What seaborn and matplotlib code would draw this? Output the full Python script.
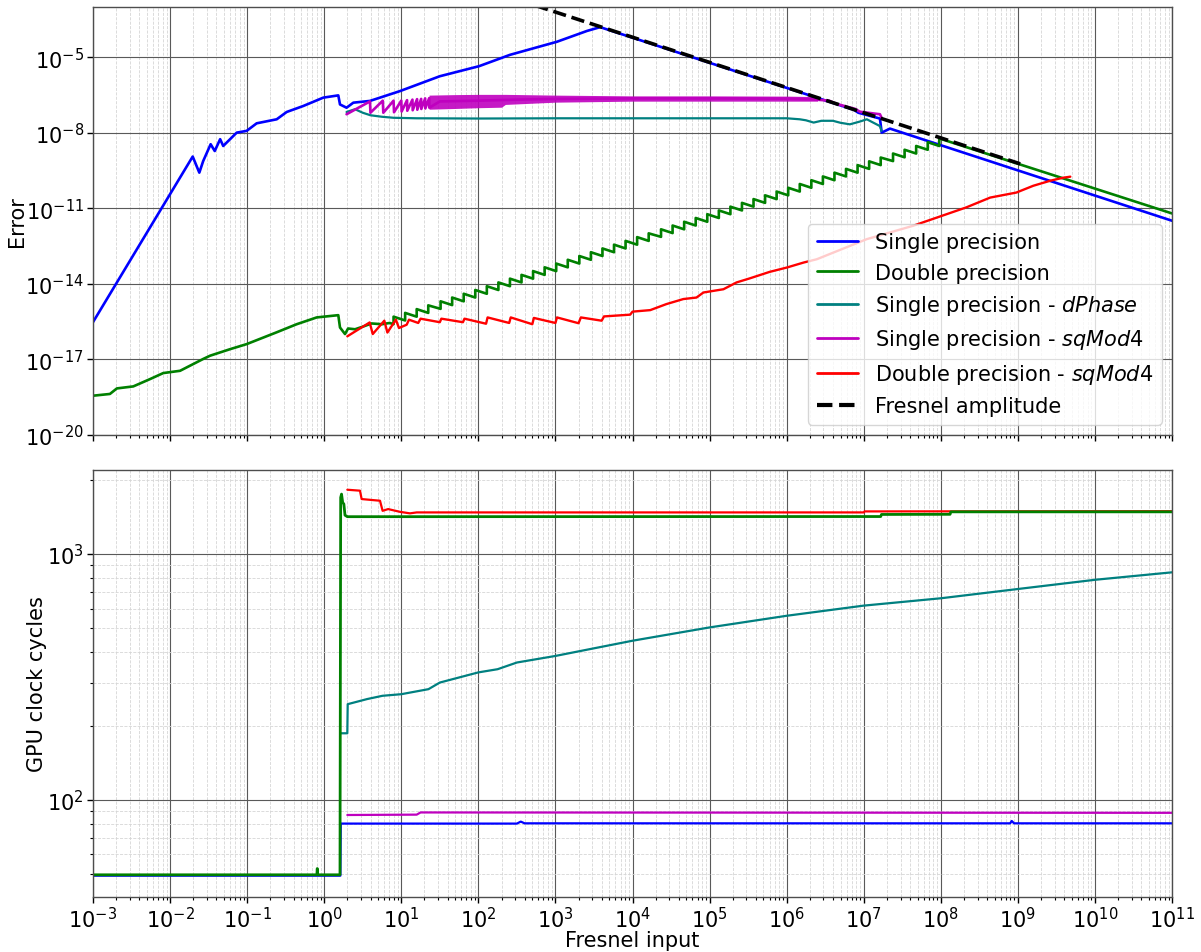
import numpy as np
import matplotlib
matplotlib.use("Agg")
import matplotlib.pyplot as plt
from matplotlib.ticker import LogLocator, NullLocator
import seaborn as sns

# ---------------------------------------------------------------------------
# Data (values stored as base-10 exponents: value = 10**exponent)
# ---------------------------------------------------------------------------

# --- Error panel ---------------------------------------------------------
single_err_lx = [-3.0, -1.706, -1.62, -1.57, -1.473, -1.42, -1.35, -1.31, -1.135,
                 -1.006, -0.876, -0.616, -0.487, -0.27, -0.012, 0.183, 0.205, 0.29,
                 0.378, 0.594, 0.983, 1.50, 2.01, 2.41, 3.02, 3.41, 3.58, 6.87,
                 6.93, 7.21, 7.233, 7.34, 11.0]
single_err_ly = [-15.52, -8.94, -9.58, -9.12, -8.45, -8.72, -8.25, -8.52, -7.99,
                 -7.92, -7.62, -7.46, -7.17, -6.93, -6.60, -6.51, -6.87, -7.0,
                 -6.80, -6.73, -6.34, -5.75, -5.35, -4.90, -4.38, -3.95, -3.80, -7.08,
                 -7.20, -7.43, -7.99, -7.83, -11.49]

double_err_head_lx = [-3.0, -2.78, -2.69, -2.477, -2.26, -2.088, -1.87, -1.57, -1.48,
                      -1.22, -1.006, -0.616, -0.357, -0.097, 0.183, 0.205, 0.27, 0.31,
                      0.40, 0.507, 0.616, 0.75, 0.85]
double_err_head_ly = [-18.44, -18.37, -18.15, -18.07, -17.78, -17.54, -17.45, -16.98,
                      -16.85, -16.59, -16.39, -15.92, -15.60, -15.33, -15.24, -15.73,
                      -15.99, -15.77, -15.80, -15.69, -15.57, -15.60, -15.55]
# sawtooth: jump positions, value just before each jump and just after it
double_jump_lx = [0.90, 1.05, 1.20, 1.35, 1.51, 1.66, 1.81, 1.96, 2.11, 2.26, 2.41, 2.56,
                  2.71, 2.86, 3.01, 3.16, 3.31, 3.46, 3.61, 3.76, 3.91, 4.06, 4.21, 4.37,
                  4.52, 4.67, 4.82, 4.97, 5.12, 5.27, 5.42, 5.57, 5.72, 5.87, 6.02, 6.17,
                  6.32, 6.47, 6.62, 6.77, 6.92, 7.07, 7.22, 7.38, 7.53, 7.68, 7.83, 7.98]
double_jump_lo = [-15.60, -15.45, -15.30, -15.15, -14.99, -14.84, -14.69, -14.54, -14.39,
                  -14.24, -14.09, -13.94, -13.79, -13.64, -13.49, -13.34, -13.19, -13.04,
                  -12.89, -12.74, -12.59, -12.44, -12.29, -12.13, -11.98, -11.83, -11.68,
                  -11.53, -11.38, -11.23, -11.08, -10.93, -10.78, -10.63, -10.48, -10.33,
                  -10.18, -10.03, -9.88, -9.73, -9.58, -9.43, -9.28, -9.12, -8.97, -8.82,
                  -8.67, -8.52]
double_jump_hi = [-15.30, -15.15, -15.00, -14.85, -14.69, -14.54, -14.39, -14.24, -14.09,
                  -13.94, -13.79, -13.64, -13.49, -13.34, -13.19, -13.04, -12.89, -12.74,
                  -12.59, -12.44, -12.29, -12.14, -11.99, -11.83, -11.68, -11.53, -11.38,
                  -11.23, -11.08, -10.93, -10.78, -10.63, -10.48, -10.33, -10.18, -10.03,
                  -9.88, -9.73, -9.58, -9.43, -9.28, -9.13, -8.98, -8.82, -8.67, -8.52,
                  -8.37, -8.22]
double_err_tail_lx = [11.0]
double_err_tail_ly = [-11.20]

dphase_err_lx = [0.29, 0.40, 0.50, 0.60, 0.75, 0.90, 1.2, 2.0, 3.0, 4.0, 5.0, 6.0, 6.17,
                 6.25, 6.35, 6.45, 6.60, 6.70, 6.82, 6.95, 7.04, 7.21, 7.23]
dphase_err_ly = [-7.17, -7.06, -7.20, -7.30, -7.36, -7.40, -7.42, -7.43, -7.42, -7.42,
                 -7.42, -7.42, -7.46, -7.50, -7.59, -7.52, -7.52, -7.60, -7.66, -7.55,
                 -7.46, -7.73, -7.92]

sqmod_s_err_lx = [0.29, 0.594, 0.60, 0.76, 0.767, 0.90, 0.906, 1.0, 1.005, 1.075, 1.078,
                  1.145, 1.148, 1.205, 1.208, 1.258, 1.26, 1.31, 1.312, 1.362, 1.364,
                  1.5, 2.0, 2.5, 3.0, 4.0, 5.0, 6.0, 6.34, 6.55, 6.65, 6.89, 6.95, 7.21,
                  7.23]
sqmod_s_err_ly = [-7.26, -6.75, -7.20, -6.72, -7.20, -6.72, -7.18, -6.72, -7.15, -6.70,
                  -7.12, -6.68, -7.10, -6.66, -7.08, -6.65, -7.05, -6.63, -7.03, -6.62,
                  -7.00, -6.75, -6.72, -6.68, -6.65, -6.63, -6.63, -6.64, -6.67, -6.72,
                  -6.85, -7.05, -7.16, -7.26, -7.39]
sqmod_s_band_lx = [1.36, 1.7, 2.0, 2.3, 2.35, 3.0, 4.0, 5.0, 6.0, 6.4]
sqmod_s_band_lo = [-7.06, -7.03, -7.00, -6.98, -6.87, -6.78, -6.74, -6.74, -6.74, -6.74]
sqmod_s_band_hi = [-6.50, -6.48, -6.47, -6.47, -6.47, -6.50, -6.53, -6.53, -6.54, -6.56]

sqmod_d_err_lx = [0.30, 0.59, 0.63, 0.78, 0.82, 0.93, 0.97, 1.07, 1.10, 1.22, 1.25, 1.50,
                  1.52, 1.80, 1.82, 2.10, 2.12, 2.40, 2.42, 2.70, 2.72, 3.00, 3.02, 3.30,
                  3.33, 3.60, 3.63, 3.97, 4.00, 4.23, 4.44, 4.66, 4.83, 4.92, 5.18, 5.35,
                  5.52, 5.78, 6.00, 6.22, 6.39, 7.04, 7.64, 8.33, 8.64, 8.98, 9.20, 9.42,
                  9.59, 9.68]
sqmod_d_err_ly = [-16.08, -15.53, -15.99, -15.46, -15.93, -15.42, -15.75, -15.62, -15.42,
                  -15.55, -15.38, -15.52, -15.38, -15.52, -15.38, -15.58, -15.33, -15.55,
                  -15.33, -15.60, -15.35, -15.55, -15.33, -15.56, -15.33, -15.46, -15.29,
                  -15.22, -15.10, -15.04, -14.80, -14.60, -14.54, -14.34, -14.21, -13.94,
                  -13.78, -13.52, -13.35, -13.15, -13.02, -12.22, -11.69, -10.96, -10.57,
                  -10.37, -10.10, -9.90, -9.78, -9.74]

fresnel_lx = [2.5, 9.03]
fresnel_ly = [-2.70, -9.23]

# --- GPU clock cycle panel ---------------------------------------------------
single_cyc_lx = [-3.0, 0.21, 0.215, 2.5, 2.55, 2.6, 8.9, 8.92, 8.95, 11.0]
single_cyc = [49.1, 49.1, 80.0, 80.0, 81.5, 80.2, 80.2, 82.0, 80.2, 80.2]

double_cyc_lx = [-3.0, -0.095, -0.09, -0.085, 0.205, 0.214, 0.225, 0.24, 0.255, 0.27,
                 0.30, 7.22, 7.23, 8.12, 8.13, 11.0]
double_cyc = [49.5, 49.5, 52.5, 49.5, 49.5, 1700, 1755, 1620, 1600, 1440, 1420, 1422,
              1450, 1452, 1486, 1486]

dphase_cyc_lx = [0.214, 0.30, 0.305, 0.557, 0.756, 1.0, 1.353, 1.5, 2.0, 2.25, 2.5, 3.0,
                 3.44, 4.0, 5.0, 6.0, 7.0, 8.0, 9.0, 10.0, 11.0]
dphase_cyc = [186.5, 186.5, 245, 257, 265, 269, 282, 300, 330, 340, 362, 385, 410, 444,
              503, 561, 617, 661, 721, 786, 843]

sqmod_s_cyc_lx = [0.30, 1.2, 1.25, 11.0]
sqmod_s_cyc = [86.7, 87.0, 88.8, 88.5]

sqmod_d_cyc_lx = [0.30, 0.464, 0.486, 0.724, 0.758, 0.83, 0.983, 1.113, 1.2, 7.0, 7.01,
                  11.0]
sqmod_d_cyc = [1828, 1812, 1675, 1649, 1500, 1525, 1486, 1465, 1478, 1478, 1492, 1495]

labels = ["Single precision", "Double precision",
          r"Single precision - $\it{dPhase}$",
          r"Single precision - $\it{sqMod4}$",
          r"Double precision - $\it{sqMod4}$",
          "Fresnel amplitude"]
colors = ["#0000ff", "#008000", "#008080", "#bf00bf", "#ff0000", "black"]

x_ticks_exp = list(range(-3, 12))
err_ticks_exp = [-20, -17, -14, -11, -8, -5]


def p10(a):
    return 10.0 ** np.asarray(a, dtype=float)


# sawtooth polyline for double precision error
saw_lx, saw_ly = [], []
for t, lo, hi in zip(double_jump_lx, double_jump_lo, double_jump_hi):
    saw_lx += [t, t]
    saw_ly += [lo, hi]
double_err_lx = double_err_head_lx + saw_lx + double_err_tail_lx
double_err_ly = double_err_head_ly + saw_ly + double_err_tail_ly

# ---------------------------------------------------------------------------
# Figure
# ---------------------------------------------------------------------------
sns.set_style("ticks")
plt.rcParams["font.family"] = ["DejaVu Sans"]
plt.rcParams["mathtext.fontset"] = "dejavusans"
for key in ("text.color", "axes.labelcolor", "xtick.color", "ytick.color"):
    plt.rcParams[key] = "black"
FS = 15

fig = plt.figure(figsize=(12.01, 9.53), dpi=100)
ax2 = fig.add_axes([0.0774, 0.0577, 0.8985, 0.4481])
ax1 = fig.add_axes([0.0774, 0.5425, 0.8985, 0.4491], sharex=ax2)

line_kw = dict(estimator=None, sort=False)

# top panel: error
sns.lineplot(x=p10(single_err_lx), y=p10(single_err_ly), ax=ax1, color=colors[0],
             lw=1.9, label=labels[0], **line_kw)
sns.lineplot(x=p10(double_err_lx), y=p10(double_err_ly), ax=ax1, color=colors[1],
             lw=1.9, label=labels[1], **line_kw)
sns.lineplot(x=p10(dphase_err_lx), y=p10(dphase_err_ly), ax=ax1, color=colors[2],
             lw=1.6, label=labels[2], **line_kw)
ax1.fill_between(p10(sqmod_s_band_lx), p10(sqmod_s_band_lo), p10(sqmod_s_band_hi),
                 color=colors[3], lw=0, alpha=0.9)
sns.lineplot(x=p10(sqmod_s_err_lx), y=p10(sqmod_s_err_ly), ax=ax1, color=colors[3],
             lw=1.9, label=labels[3], **line_kw)
sns.lineplot(x=p10(sqmod_d_err_lx), y=p10(sqmod_d_err_ly), ax=ax1, color=colors[4],
             lw=1.7, label=labels[4], **line_kw)
sns.lineplot(x=p10(fresnel_lx), y=p10(fresnel_ly), ax=ax1, color=colors[5],
             lw=2.6, linestyle="--", label=labels[5], **line_kw)

# bottom panel: clock cycles
sns.lineplot(x=p10(single_cyc_lx), y=single_cyc, ax=ax2, color=colors[0], lw=1.6,
             legend=False, **line_kw)
sns.lineplot(x=p10(sqmod_s_cyc_lx), y=sqmod_s_cyc, ax=ax2, color=colors[3], lw=1.6,
             legend=False, **line_kw)
sns.lineplot(x=p10(dphase_cyc_lx), y=dphase_cyc, ax=ax2, color=colors[2], lw=1.6,
             legend=False, **line_kw)
sns.lineplot(x=p10(sqmod_d_cyc_lx), y=sqmod_d_cyc, ax=ax2, color=colors[4], lw=1.6,
             legend=False, **line_kw)
sns.lineplot(x=p10(double_cyc_lx), y=double_cyc, ax=ax2, color=colors[1], lw=2.0,
             legend=False, **line_kw)

for ax in (ax1, ax2):
    ax.set_xscale("log")
    ax.set_yscale("log")

ax2.set_xlim(1e-3, 1e11)
ax2.set_xticks(p10(x_ticks_exp))
ax2.xaxis.set_minor_locator(LogLocator(base=10, subs=np.arange(2, 10), numticks=200))

ax1.set_ylim(1e-20, 1e-3)
ax1.set_yticks(p10(err_ticks_exp))
ax1.yaxis.set_minor_locator(NullLocator())

ax2.set_ylim(40.2, 2200)
ax2.yaxis.set_minor_locator(LogLocator(base=10, subs=np.arange(2, 10), numticks=50))

for ax in (ax1, ax2):
    ax.grid(which="major", color="0.35", lw=0.8, ls="-")
    ax.grid(which="minor", color="0.84", lw=0.6, ls="--")
    ax.set_axisbelow(True)
    ax.tick_params(which="major", labelsize=FS, length=4.5, width=1, direction="out",
                   pad=2)
    ax.tick_params(which="minor", length=2.5, width=0.8, direction="out")
    for s in ax.spines.values():
        s.set_color("0.3")
        s.set_linewidth(1.0)

ax1.tick_params(labelbottom=False)
ax1.set_xlabel("")
ax1.set_ylabel("Error", fontsize=FS)
ax2.set_ylabel("GPU clock cycles", fontsize=FS)
ax2.set_xlabel("Fresnel input", fontsize=FS)
ax1.yaxis.set_label_coords(-0.061, 0.5)
ax2.yaxis.set_label_coords(-0.043, 0.5)
ax2.xaxis.set_label_coords(0.5, -0.078)

# the 100-cycle gridline is drawn in a lighter shade
for tick in ax2.yaxis.get_major_ticks():
    if abs(tick.get_loc() - 100) < 1e-6:
        tick.gridline.set_color("0.7")
        tick.gridline.set_linewidth(1.3)

leg = ax1.legend(loc="lower right", fontsize=FS, frameon=True, framealpha=0.8,
                 fancybox=True, edgecolor="0.8")
for h in leg.get_lines():
    h.set_linewidth(2.0)
leg.get_lines()[-1].set_linewidth(3.0)

fig.savefig("out.png", dpi=100)
